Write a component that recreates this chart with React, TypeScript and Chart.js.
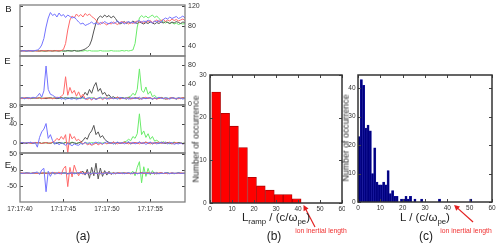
import React, { useEffect, useRef } from 'react';
import { Chart, registerables } from 'chart.js';

Chart.register(...registerables);

const FONT = '"Liberation Sans", Arial, sans-serif';

// ---------------- data: panel (a) ----------------
const TIME_S = [
  0, 0.25, 0.5, 0.75, 1, 1.25, 1.5, 1.75, 2, 2.25, 2.5, 2.75, 3, 3.25, 3.5, 3.75,
  4, 4.25, 4.5, 4.75, 5, 5.25, 5.5, 5.75, 6, 6.25, 6.5, 6.75, 7, 7.25, 7.5, 7.75,
  8, 8.25, 8.5, 8.75, 9, 9.25, 9.5, 9.75, 10, 10.25, 10.5, 10.75, 11, 11.25, 11.5, 11.75,
  12, 12.25, 12.5, 12.75, 13, 13.25, 13.5, 13.75, 14, 14.25, 14.5, 14.75, 15, 15.25, 15.5, 15.75,
  16, 16.25, 16.5, 16.75, 17, 17.25, 17.5, 17.75, 18, 18.25, 18.5, 18.75, 19,
];
const TIME_TICKS = [0, 5, 10, 15];
const TIME_TICK_LABELS = ['17:17:40', '17:17:45', '17:17:50', '17:17:55'];

const B_BLUE = [
  30, 30, 31, 30, 30, 31, 30, 31, 32, 35, 42, 55, 78, 96, 107, 101,
  104, 98, 106, 100, 103, 97, 102, 99, 96, 98, 93, 88, 84, 86, 81, 83,
  85, 88, 84, 86, 83, 87, 85, 89, 86, 84, 88, 85, 87, 90, 86, 88,
  84, 87, 89, 86, 88, 85, 89, 91, 87, 90, 88, 92, 89, 86, 90, 88,
  91, 87, 93, 96, 94, 98, 95, 97, 99, 95, 97, 100, 96,
];
const B_RED = [
  30, 30, 30, 31, 30, 30, 31, 30, 30, 30, 30, 31, 30, 30, 31, 30,
  30, 31, 30, 31, 33, 45, 72, 92, 100, 96, 104, 99, 103, 98, 105, 101,
  104, 99, 96, 92, 86, 83, 88, 85, 82, 86, 84, 88, 85, 83, 87, 89,
  86, 88, 84, 87, 85, 88, 90, 87, 89, 86, 90, 88, 91, 87, 89, 92,
  88, 91, 93, 89, 92, 90, 94, 91, 93, 90, 92, 94, 91,
];
const B_BLACK = [
  30, 31, 30, 30, 31, 30, 30, 31, 30, 30, 31, 30, 30, 31, 30, 30,
  31, 30, 30, 31, 30, 30, 31, 30, 30, 31, 30, 30, 31, 32, 34, 37,
  41, 52, 70, 86, 96, 100, 97, 102, 98, 101, 96, 100, 95, 88, 84, 86,
  89, 85, 88, 86, 90, 87, 85, 88, 86, 84, 87, 85, 88, 86, 84, 87,
  85, 88, 86, 89, 87, 85, 88, 86, 89, 87, 85, 88, 87,
];
const B_GREEN = [
  30, 30, 31, 30, 30, 31, 30, 30, 31, 30, 30, 30, 30, 30, 31, 30,
  30, 31, 30, 30, 30, 30, 30, 31, 30, 31, 30, 30, 30, 30, 31, 30,
  31, 30, 30, 30, 30, 31, 30, 30, 30, 30, 31, 30, 30, 30, 30, 31,
  30, 31, 30, 31, 32, 45, 78, 96, 101, 97, 100, 96, 99, 102, 97, 100,
  95, 91, 88, 86, 88, 85, 87, 84, 86, 83, 85, 84, 85,
];

const E_BLUE = [
  12, 13, 11, 12, 13, 12, 14, 12, 16, 22, 14, 27, 78, 30, 20, 18,
  15, 12, 14, 10, 12, 9, 13, 11, 10, 13, 9, 12, 11, 14, 10, 12,
  13, 10, 12, 9, 12, 14, 11, 13, 10, 12, 13, 11, 12, 10, 14, 12,
  11, 13, 10, 12, 13, 11, 12, 14, 10, 12, 11, 13, 12, 10, 13, 11,
  14, 12, 11, 13, 12, 10, 13, 12, 11, 13, 12, 10, 12,
];
const E_RED = [
  12, 11, 13, 12, 11, 12, 13, 12, 12, 13, 11, 12, 13, 12, 12, 11,
  12, 14, 13, 16, 20, 56, 18, 34, 22, 28, 16, 25, 14, 20, 11, 9,
  12, 8, 13, 10, 11, 13, 9, 12, 13, 10, 12, 11, 12, 14, 10, 12,
  11, 13, 12, 10, 12, 11, 13, 12, 10, 12, 14, 11, 13, 11, 12, 10,
  12, 13, 11, 12, 10, 12, 13, 11, 12, 11, 12, 13, 11,
];
const E_BLACK = [
  11, 12, 12, 13, 12, 11, 13, 12, 12, 13, 11, 12, 11, 12, 13, 12,
  12, 11, 12, 13, 12, 13, 11, 12, 13, 12, 12, 11, 12, 16, 24, 18,
  30, 22, 36, 44, 26, 32, 20, 24, 16, 19, 13, 15, 12, 14, 11, 13,
  12, 10, 13, 12, 11, 13, 12, 10, 12, 13, 11, 12, 13, 10, 12, 11,
  12, 13, 12, 10, 11, 12, 13, 12, 10, 12, 11, 13, 12,
];
const E_GREEN = [
  12, 13, 11, 12, 13, 12, 11, 13, 12, 12, 13, 11, 12, 13, 12, 11,
  13, 12, 12, 13, 11, 12, 13, 12, 12, 11, 13, 12, 13, 12, 11, 12,
  12, 13, 12, 11, 12, 12, 13, 12, 11, 13, 12, 12, 13, 11, 12, 13,
  12, 13, 14, 16, 22, 18, 30, 72, 28, 24, 35, 20, 26, 15, 18, 13,
  12, 14, 11, 13, 12, 11, 13, 12, 11, 13, 12, 12, 12,
];

const EX_BLUE = [
  0, 1, -1, 1, 0, 2, -1, 1, -9, 12, 24, 30, 42, 10, 18, 5,
  -3, 2, -4, 1, -2, -5, -1, -3, -6, -2, -4, -5, -1, -3, 2, -2,
  1, -3, 0, 2, -1, 1, -2, 0, 3, -1, 1, -2, 0, 2, -1, 1,
  -2, 0, 3, -1, 1, -2, 0, 2, -1, 1, -3, 0, 2, -1, 1, -2,
  0, 1, -1, 2, -2, 0, 1, -3, -1, -2, 0, -2, -1,
];
const EX_RED = [
  1, 0, -1, 1, 0, -1, 1, 0, 1, 0, -1, 0, 1, -1, 0, 2,
  4, 10, 6, 14, 8, 18, -22, 20, 9, 14, 5, 8, 3, -2, 1, -4,
  -2, -5, -3, 0, -4, -1, -3, 1, -2, 0, -1, 2, 0, -2, 1, -1,
  2, 0, -2, 1, -1, 1, 0, -2, 1, -1, 2, 0, -2, 1, -1, 0,
  2, -1, 0, 1, -1, 2, -2, 0, 1, -1, 0, -2, 0,
];
const EX_BLACK = [
  0, 1, 0, -1, 1, 0, -1, 1, 0, 1, -1, 0, 1, 0, -1, 1,
  0, -1, 1, 0, -1, 1, 0, -1, 1, 0, -1, 0, 2, 5, 12, 8,
  20, 26, 38, 18, 24, 12, 16, 8, 4, 1, -1, 2, -2, 1, -1, 0,
  2, -1, 1, -2, 0, 1, -1, 2, -1, 0, 2, -1, 1, -2, 0, 1,
  -1, 2, 0, -1, 1, 0, -2, 1, -1, 1, 0, -1, 0,
];
const EX_GREEN = [
  1, 0, 0, -1, 1, 0, -1, 0, 1, 0, -1, 1, 0, -1, 0, 1,
  -1, 0, 1, -1, 0, 1, -1, 0, 2, 0, -1, 1, 0, -2, 1, 0,
  -1, 1, 0, -1, 2, -1, 0, 1, -1, 0, 1, -2, 0, 1, -1, 0,
  2, 4, 8, 5, 14, 10, 20, 63, 18, 26, 12, 20, 8, 14, 4, 6,
  2, -1, 3, 0, 1, -2, 0, 2, -1, 1, 0, -1, 0,
];

const EY_BLUE = [
  -10, -11, -9, -10, -9, -11, -10, -8, -6, -14, 0, 5, -68, -4, -20, -6,
  -14, -8, -12, -9, -11, -8, -13, -10, -9, -12, -10, -8, -11, -10, -13, -9,
  -10, -12, -8, -11, -10, -9, -12, -10, -8, -11, -10, -12, -9, -10, -11, -9,
  -12, -10, -8, -11, -10, -9, -12, -10, -11, -8, -10, -12, -9, -11, -10, -9,
  -12, -10, -11, -8, -10, -12, -9, -11, -10, -9, -11, -10, -11,
];
const EY_RED = [
  -10, -9, -11, -10, -10, -11, -9, -10, -11, -10, -9, -10, -10, -11, -10, -9,
  -8, -12, -6, -14, 4, 12, -52, 8, -22, 15, -5, -18, -4, -14, -7, -12,
  -9, -13, -8, -11, -10, -12, -9, -11, -8, -10, -12, -9, -11, -10, -8, -12,
  -10, -9, -11, -10, -12, -9, -10, -11, -9, -11, -10, -8, -11, -10, -12, -9,
  -10, -8, -11, -10, -12, -10, -9, -11, -10, -11, -9, -10, -10,
];
const EY_BLACK = [
  -10, -10, -11, -9, -10, -11, -9, -10, -10, -11, -10, -9, -11, -10, -10, -9,
  -10, -11, -10, -10, -9, -10, -11, -10, -10, -9, -11, -10, -8, -4, -16, 2,
  -26, 8, -18, 21, -28, 6, -20, -2, -16, -4, -14, -8, -12, -9, -11, -10,
  -9, -11, -10, -12, -10, -9, -11, -10, -8, -11, -10, -9, -11, -10, -9, -12,
  -10, -9, -11, -10, -9, -11, -10, -10, -11, -9, -10, -11, -10,
];
const EY_GREEN = [
  -10, -11, -10, -9, -10, -10, -11, -9, -10, -10, -11, -10, -9, -10, -11, -10,
  -10, -9, -11, -10, -10, -9, -11, -10, -10, -11, -9, -10, -10, -11, -10, -9,
  -11, -10, -10, -9, -10, -11, -10, -10, -9, -11, -10, -10, -11, -9, -10, -10,
  -10, -11, -9, -10, -4, -18, 8, 26, -40, 10, -20, 5, -16, -2, -14, -7,
  -12, -9, -11, -10, -9, -11, -10, -12, -10, -9, -11, -10, -10,
];

const B_TICKS = [40, 80, 120];
const E_TICKS = [0, 40, 80];
const EX_TICKS = [0, 40, 80];
const EY_TICKS = [-50, 0, 50];

// ---------------- data: panel (b) ----------------
const RAMP_BIN_CENTERS = [2.8, 6.9, 10.9, 15.0, 19.1, 23.1, 27.2, 31.2, 35.3, 39.4];
const RAMP_COUNTS = [26, 21, 18, 13, 6, 4, 3, 2, 2, 1];
const RAMP_Y_TICKS = [0, 10, 20, 30];

// ---------------- data: panel (c) ----------------
const L_BIN_CENTERS = [0.5, 1.5, 2.5, 3.5, 4.5, 5.5, 6.5, 7.5, 8.5, 9.5, 10.5, 11.5, 12.5, 13.5, 14.5, 15.5, 16.5, 17.5, 18.5, 19.5, 20.5, 21.5, 22.5, 23.5, 24.5, 25.5, 26.5, 27.5, 28.5, 29.5, 30.5, 31.5, 32.5, 33.5, 34.5, 35.5, 36.5, 37.5, 38.5, 39.5, 40.5, 41.5, 42.5, 43.5, 44.5, 45.5, 46.5, 47.5, 48.5, 49.5, 50.5, 51.5];
const L_COUNTS = [23, 43, 41, 26, 27, 25, 10, 19, 7, 6, 6, 7, 6, 11, 3, 4, 2, 2, 0, 1, 1, 2, 1, 2, 0, 1, 0, 0, 1, 0, 0, 0, 0, 0, 0, 0, 1, 0, 0, 0, 0, 0, 0, 0, 0, 0, 0, 0, 0, 0, 1, 0];
const L_Y_TICKS = [0, 10, 20, 30, 40];

const HIST_X_TICKS = [0, 10, 20, 30, 40, 50, 60];
const INERTIAL_LENGTH = 42.5;

// ---------------- styles ----------------
const SERIES_COLORS = ['rgb(115,115,255)', 'rgb(255,105,105)', 'rgb(85,85,85)', 'rgb(105,235,105)'];
const TICK_COLOR = '#333';

const fixedTicks = (vals: number[]) => (s: any) => {
  s.ticks = vals.map((v) => ({ value: v }));
};
const fixSize = (w: number | null, h: number | null) => (s: any) => {
  if (w != null) s.width = w;
  if (h != null) s.height = h;
  s.paddingTop = 0;
  s.paddingBottom = 0;
  s.paddingLeft = 0;
  s.paddingRight = 0;
};

function framePlugin(o: { xTicks: number[]; yTicks: number[]; len: number; color: string; width: number; topTicks: boolean }) {
  return {
    id: 'frame',
    afterDatasetsDraw(chart: any) {
      const { ctx, chartArea: a } = chart;
      ctx.save();
      ctx.strokeStyle = '#444';
      ctx.lineWidth = 1;
      ctx.beginPath();
      for (const v of o.xTicks) {
        const px = Math.round(chart.scales.x.getPixelForValue(v)) + 0.5;
        ctx.moveTo(px, a.bottom);
        ctx.lineTo(px, a.bottom - o.len);
        if (o.topTicks) {
          ctx.moveTo(px, a.top);
          ctx.lineTo(px, a.top + o.len);
        }
      }
      for (const v of o.yTicks) {
        const py = Math.round(chart.scales.y.getPixelForValue(v)) + 0.5;
        ctx.moveTo(a.left, py);
        ctx.lineTo(a.left + o.len, py);
        ctx.moveTo(a.right, py);
        ctx.lineTo(a.right - o.len, py);
      }
      ctx.stroke();
      ctx.strokeStyle = o.color;
      ctx.lineWidth = o.width;
      ctx.strokeRect(a.left, a.top, a.right - a.left, a.bottom - a.top);
      ctx.restore();
    },
  };
}

function arrowPlugin(o: { at: number; gap: number; dx: number; dy: number; color: string }) {
  return {
    id: 'arrow',
    afterDraw(chart: any) {
      const { ctx, chartArea: a } = chart;
      const tx = chart.scales.x.getPixelForValue(o.at);
      const ty = a.bottom + o.gap;
      const sx = tx + o.dx;
      const sy = ty + o.dy;
      const ang = Math.atan2(ty - sy, tx - sx);
      const c = Math.cos(ang);
      const s = Math.sin(ang);
      ctx.save();
      ctx.strokeStyle = o.color;
      ctx.fillStyle = o.color;
      ctx.lineWidth = 1.2;
      ctx.beginPath();
      ctx.moveTo(sx, sy);
      ctx.lineTo(tx - 4 * c, ty - 4 * s);
      ctx.stroke();
      const h = 5.5;
      const w = 2.8;
      ctx.beginPath();
      ctx.moveTo(tx, ty);
      ctx.lineTo(tx - h * c + w * s, ty - h * s - w * c);
      ctx.lineTo(tx - h * c - w * s, ty - h * s + w * c);
      ctx.closePath();
      ctx.fill();
      ctx.restore();
    },
  };
}

type Panel = {
  key: string;
  series: number[][];
  min: number;
  max: number;
  ticks: number[];
  side: 'left' | 'right';
  top: number;
  height: number;
  padTop: number;
  padBottom: number;
  showX: boolean;
};

const PANELS: Panel[] = [
  { key: 'B', series: [B_BLUE, B_RED, B_BLACK, B_GREEN], min: 20, max: 122, ticks: B_TICKS, side: 'right', top: 0, height: 62, padTop: 5, padBottom: 6, showX: false },
  { key: 'E', series: [E_BLUE, E_RED, E_BLACK, E_GREEN], min: -2, max: 98.5, ticks: E_TICKS, side: 'right', top: 50, height: 61, padTop: 6, padBottom: 6, showX: false },
  { key: 'Ex', series: [EX_BLUE, EX_RED, EX_BLACK, EX_GREEN], min: -21.6, max: 82, ticks: EX_TICKS, side: 'left', top: 99, height: 60, padTop: 6, padBottom: 6, showX: false },
  { key: 'Ey', series: [EY_BLUE, EY_RED, EY_BLACK, EY_GREEN], min: -100, max: 53, ticks: EY_TICKS, side: 'left', top: 147, height: 75, padTop: 6, padBottom: 4, showX: true },
];

function linePanel(p: Panel) {
  const tickFont = { family: FONT, size: 7 };
  return {
    type: 'line',
    data: {
      datasets: p.series.map((s, k) => ({
        data: TIME_S.map((t, i) => ({ x: t, y: s[i] })),
        borderColor: SERIES_COLORS[k],
        borderWidth: 1,
        pointRadius: 0,
        tension: 0,
        fill: false,
      })),
    },
    options: {
      animation: false,
      responsive: false,
      events: [],
      layout: { padding: { top: p.padTop, bottom: p.padBottom, left: 0, right: 0 } },
      plugins: { legend: { display: false }, tooltip: { enabled: false } },
      scales: {
        x: {
          type: 'linear',
          min: 0,
          max: 19,
          grid: { display: false, drawTicks: false },
          border: { display: false },
          ticks: {
            display: p.showX,
            autoSkip: false,
            maxRotation: 0,
            padding: 3,
            color: TICK_COLOR,
            font: { family: FONT, size: 6.5 },
            callback: (v: number) => TIME_TICK_LABELS[TIME_TICKS.indexOf(v)] ?? '',
          },
          afterBuildTicks: fixedTicks(TIME_TICKS),
          afterFit: fixSize(null, p.showX ? 16 : 0),
        },
        y: {
          position: 'left',
          min: p.min,
          max: p.max,
          grid: { display: false, drawTicks: false },
          border: { display: false },
          ticks: { display: p.side === 'left', padding: 3, color: TICK_COLOR, font: tickFont, autoSkip: false },
          afterBuildTicks: fixedTicks(p.ticks),
          afterFit: fixSize(20, null),
        },
        y2: {
          position: 'right',
          min: p.min,
          max: p.max,
          grid: { display: false, drawTicks: false },
          border: { display: false },
          ticks: { display: p.side === 'right', padding: 3, color: TICK_COLOR, font: tickFont, autoSkip: false },
          afterBuildTicks: fixedTicks(p.ticks),
          afterFit: fixSize(25, null),
        },
      },
    },
    plugins: [framePlugin({ xTicks: [5, 10, 15], yTicks: p.ticks, len: 3, color: '#808080', width: 1.3, topTicks: false })],
  };
}

function histChart(o: {
  centers: number[];
  counts: number[];
  yMax: number;
  yTicks: number[];
  yWidth: number;
  padRight: number;
  padBottom: number;
  fill: string;
  border: string;
  borderWidth: number;
  arrow: { at: number; gap: number; dx: number; dy: number };
  tickSize: number;
  yPad: number;
}) {
  const tickFont = { family: FONT, size: o.tickSize };
  return {
    type: 'bar',
    data: {
      datasets: [
        {
          data: o.centers.map((c, i) => ({ x: c, y: o.counts[i] })),
          backgroundColor: o.fill,
          borderColor: o.border,
          borderWidth: o.borderWidth,
          barPercentage: 1,
          categoryPercentage: 1,
        },
      ],
    },
    options: {
      animation: false,
      responsive: false,
      events: [],
      layout: { padding: { top: 10, right: o.padRight, bottom: o.padBottom, left: 0 } },
      plugins: { legend: { display: false }, tooltip: { enabled: false } },
      scales: {
        x: {
          type: 'linear',
          offset: false,
          min: 0,
          max: 60,
          grid: { display: false, drawTicks: false, offset: false },
          border: { display: false },
          ticks: { padding: 2, color: TICK_COLOR, font: tickFont, autoSkip: false, maxRotation: 0 },
          afterBuildTicks: fixedTicks(HIST_X_TICKS),
          afterFit: fixSize(null, 11),
        },
        y: {
          min: 0,
          max: o.yMax,
          grid: { display: false, drawTicks: false },
          border: { display: false },
          ticks: { padding: o.yPad, color: TICK_COLOR, font: tickFont, autoSkip: false },
          afterBuildTicks: fixedTicks(o.yTicks),
          afterFit: fixSize(o.yWidth, null),
        },
      },
    },
    plugins: [
      framePlugin({ xTicks: HIST_X_TICKS, yTicks: o.yTicks, len: 3, color: '#333', width: 1.5, topTicks: true }),
      arrowPlugin({ ...o.arrow, color: '#e32020' }),
    ],
  };
}

const rampHist = () =>
  histChart({
    centers: RAMP_BIN_CENTERS,
    counts: RAMP_COUNTS,
    yMax: 30,
    yTicks: RAMP_Y_TICKS,
    yWidth: 25,
    padRight: 3,
    padBottom: 26,
    fill: '#ff0000',
    border: '#a80000',
    borderWidth: 0.8,
    arrow: { at: INERTIAL_LENGTH, gap: 2, dx: 11.5, dy: 22 },
    tickSize: 6.5,
    yPad: 3.5,
  });

const lHist = () =>
  histChart({
    centers: L_BIN_CENTERS,
    counts: L_COUNTS,
    yMax: 44.6,
    yTicks: L_Y_TICKS,
    yWidth: 28,
    padRight: 8,
    padBottom: 27,
    fill: '#00007e',
    border: '#1c1ca8',
    borderWidth: 0.5,
    arrow: { at: INERTIAL_LENGTH + 0.5, gap: 3, dx: 19, dy: 17 },
    tickSize: 6.5,
    yPad: 2.5,
  });

function ChartBox({ left, top, width, height, make }: { left: number; top: number; width: number; height: number; make: () => any }) {
  const ref = useRef<HTMLCanvasElement>(null);
  useEffect(() => {
    const chart = new Chart(ref.current as HTMLCanvasElement, make());
    return () => chart.destroy();
  }, []);
  return <canvas ref={ref} width={width} height={height} style={{ position: 'absolute', left, top, width, height }} />;
}

function Txt({ x, y, size, color = '#222', rotate = 0, children }: { x: number; y: number; size: number; color?: string; rotate?: number; children: any }) {
  return (
    <div
      style={{
        position: 'absolute',
        left: x,
        top: y,
        transform: `translate(-50%, -50%) rotate(${rotate}deg)`,
        fontSize: size,
        color,
        whiteSpace: 'nowrap',
        lineHeight: 1,
        fontFamily: FONT,
      }}
    >
      {children}
    </div>
  );
}

const Sub = ({ children }: { children: any }) => (
  <span style={{ fontSize: '0.68em', position: 'relative', top: '0.35em' }}>{children}</span>
);

export default function App() {
  return (
    <div style={{ position: 'absolute', left: 0, top: 0, width: 500, height: 245, background: '#fff', overflow: 'hidden' }}>
      {PANELS.map((p) => (
        <ChartBox key={p.key} left={0} top={p.top} width={210} height={p.height} make={() => linePanel(p)} />
      ))}
      <ChartBox left={185} top={65} width={160} height={175} make={rampHist} />
      <ChartBox left={330} top={65} width={170} height={175} make={lHist} />

      <Txt x={8.5} y={8.5} size={9.5}>B</Txt>
      <Txt x={7.5} y={61} size={9.5}>E</Txt>
      <Txt x={9} y={115.5} size={9.5}>E<Sub>x</Sub></Txt>
      <Txt x={9.5} y={164.5} size={9.5}>E<Sub>y</Sub></Txt>
      <Txt x={83} y={235.5} size={12}>(a)</Txt>

      <Txt x={195.5} y={139} size={8.8} rotate={-90}>Number of occurrence</Txt>
      <Txt x={276} y={218} size={11.5}>L<Sub>ramp</Sub> / (c/ω<Sub>pe</Sub>)</Txt>
      <Txt x={274} y={236} size={12}>(b)</Txt>
      <Txt x={321} y={230.5} size={6.8} color="#f03030">ion inertial length</Txt>

      <Txt x={346} y={138} size={8.8} rotate={-90}>Number of occurrence</Txt>
      <Txt x={425} y={218} size={11.5}>L / (c/ω<Sub>pe</Sub>)</Txt>
      <Txt x={426} y={236} size={12}>(c)</Txt>
      <Txt x={466} y={230.5} size={6.8} color="#f03030">ion inertial length</Txt>
    </div>
  );
}
